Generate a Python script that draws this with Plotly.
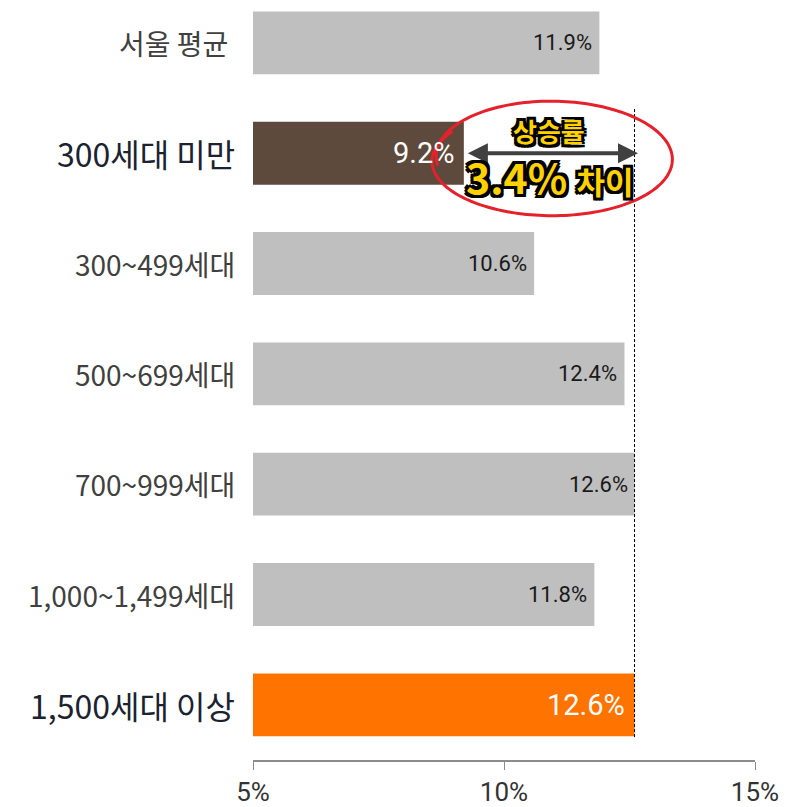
import numpy as np
import plotly.graph_objects as go

categories = ["서울 평균", "300세대 미만", "300~499세대", "500~699세대",
              "700~999세대", "1,000~1,499세대", "1,500세대 이상"]
values = [11.9, 9.2, 10.6, 12.4, 12.6, 11.8, 12.6]
value_labels = ["11.9%", "9.2%", "10.6%", "12.4%", "12.6%", "11.8%", "12.6%"]
bar_colors = ["#BFBFBF", "#5E4A3C", "#BFBFBF", "#BFBFBF", "#BFBFBF", "#BFBFBF", "#FF7300"]
highlight = [False, True, False, False, False, False, True]
x_ticks = [5, 10, 15]
x_tick_labels = ["5%", "10%", "15%"]
gap_label_top = "상승률"
gap_value = "3.4%"
gap_suffix = "차이"

pos = list(range(len(categories)))

fig = go.Figure()
fig.add_trace(go.Bar(
    y=pos, x=[v - 5 for v in values], base=5, orientation="h",
    marker=dict(color=bar_colors, line=dict(width=0)),
    width=0.57, hoverinfo="skip"))

annotations = []
for i, (c, v, lab, h) in enumerate(zip(categories, values, value_labels, highlight)):
    annotations.append(dict(
        x=v, y=i, xref="x", yref="y", text=lab, showarrow=False,
        xanchor="right", yanchor="middle", xshift=-8 if h else -5,
        font=dict(family="Roboto, Noto Sans CJK KR", size=29 if h else 22,
                  color="#FFFFFF" if h else "#1A1A1A")))
    annotations.append(dict(
        x=5, y=i, xref="x", yref="y", text=c + (" " if i == 0 else ""), showarrow=False,
        xanchor="right", yanchor="middle", xshift=-16,
        font=dict(family="Noto Sans CJK KR", size=32 if h else 28,
                  color="#1B2230" if h else "#404040")))

# double-headed arrow between 300세대 미만 and 1,500세대 이상
lo, hi = values[1], values[6]
annotations.append(dict(
    x=hi + 0.07, y=1, ax=lo + 0.05, ay=1, xref="x", yref="y", axref="x", ayref="y",
    text="", showarrow=True, arrowhead=2, arrowsize=1, arrowwidth=4,
    arrowside="end+start", arrowcolor="#404040"))

outline = ", ".join(f"{dx}px {dy}px 0 #000" for dx in (-3, 0, 3) for dy in (-3, 0, 3) if dx or dy)
mid = (lo + hi) / 2
annotations.append(dict(
    x=mid, y=1, xref="x", yref="y", yshift=23, text=f"<b>{gap_label_top}</b>",
    showarrow=False, xanchor="center", yanchor="middle",
    font=dict(family="Noto Sans CJK KR", size=26, color="#FFD200", shadow=outline)))
annotations.append(dict(
    x=mid, y=1, xref="x", yref="y", yshift=-23,
    text=f"<b>{gap_value}</b> <b><span style='font-size:31px'>{gap_suffix}</span></b>",
    showarrow=False, xanchor="center", yanchor="middle",
    font=dict(family="Noto Sans CJK KR", size=41, color="#FFD200", shadow=outline)))

shapes = []
# dashed reference line at the 1,500세대 이상 value
shapes.append(dict(type="line", xref="x", yref="y", x0=hi, x1=hi, y0=0.6, y1=6.3,
                   line=dict(color="#000000", width=1, dash="3px,2px")))

# hand-drawn red ellipse
cx, cy, rx, ry = 10.98, 1.03, 2.33, 0.52
t = np.linspace(np.pi * 0.95, np.pi * 0.95 + 2 * np.pi * 1.12, 200)
k = (t - t[0]) / (t[-1] - t[0])
xs = cx + rx * np.cos(t) * (1 + 0.04 * k)
ys = cy + ry * np.sin(t) * (1 - 0.05 * k) + 0.05 * k
path = "M " + " L ".join(f"{a:.4f},{b:.4f}" for a, b in zip(xs, ys))
shapes.append(dict(type="path", xref="x", yref="y", path=path,
                   line=dict(color="#E5212B", width=3)))

fig.update_layout(
    width=792, height=807, margin=dict(l=245, r=45, t=0, b=55),
    plot_bgcolor="white", paper_bgcolor="white", showlegend=False,
    annotations=annotations, shapes=shapes,
    xaxis=dict(range=[5, 15], tickvals=x_ticks, ticktext=x_tick_labels,
               showgrid=False, zeroline=False, showline=True, linecolor="#8C8C8C",
               linewidth=1.5, ticks="outside", ticklen=8, tickcolor="#8C8C8C",
               tickfont=dict(family="Roboto", size=26, color="#333333")),
    yaxis=dict(range=[6.5, -0.316], showticklabels=False, showgrid=False,
               zeroline=False, showline=False, ticks=""),
)
fig.write_html("out.html")
